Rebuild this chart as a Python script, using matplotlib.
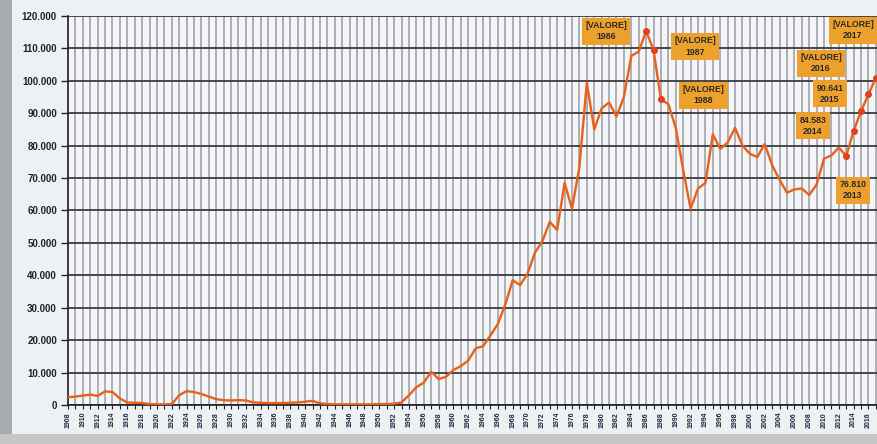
import matplotlib
matplotlib.use("Agg")
import matplotlib.pyplot as plt
from matplotlib.ticker import FuncFormatter, MultipleLocator
from matplotlib.patches import Rectangle

years = list(range(1908, 2018))
values = [
    2400, 2600, 2900, 3200, 2800, 4200, 4000, 2000, 800, 700,        # 1908-1917
    600, 300, 200, 200, 300, 3000, 4300, 4000, 3400, 2600,           # 1918-1927
    1800, 1500, 1400, 1500, 1400, 800, 700, 600, 600, 600,           # 1928-1937
    700, 800, 1000, 1300, 500, 300, 200, 200, 200, 200,              # 1938-1947
    200, 200, 300, 300, 400, 800, 3000, 5500, 6900, 10300,           # 1948-1957
    8000, 8700, 10800, 12000, 13700, 17500, 18100, 21500, 25000, 31000,  # 1958-1967
    38500, 37000, 40500, 47000, 50500, 56500, 54000, 68500, 60500, 73500,  # 1968-1977
    99500, 85000, 91500, 93300, 89000, 95000, 107700, 109000, 115400, 109500,  # 1978-1987
    94300, 92800, 85500, 72500, 60500, 66800, 68500, 83500, 79000, 81000,  # 1988-1997
    85500, 80000, 77500, 76500, 80500, 74000, 69500, 65500, 66500, 66800,  # 1998-2007
    64800, 68000, 76000, 77000, 79400, 76810, 84583, 90641, 95800, 101000,  # 2008-2017
]

label_years = [1986, 1987, 1988, 2013, 2014, 2015, 2016, 2017]
label_texts = ["[VALORE]\n1986", "[VALORE]\n1987", "[VALORE]\n1988",
               "76.810\n2013", "84.583\n2014", "90.641\n2015",
               "[VALORE]\n2016", "[VALORE]\n2017"]
# label box centres in (year, value) data coordinates
label_pos_x = [1980.6, 1992.6, 1993.7, 2013.9, 2008.5, 2010.8, 2009.6, 2013.9]
label_pos_y = [115300, 110600, 95500, 66200, 86200, 96000, 105400, 115600]

W, H = 878, 444
fig = plt.figure(figsize=(W / 100, H / 100), dpi=100, facecolor="#eef1f4")
# frame decorations
fig.add_artist(Rectangle((0, 0), 12 / W, 1, transform=fig.transFigure,
                         facecolor="#a9abad", edgecolor="none", zorder=0))
fig.add_artist(Rectangle((0, 0), 1, 10 / H, transform=fig.transFigure,
                         facecolor="#c4c6c8", edgecolor="none", zorder=0))

ax = fig.add_axes([68 / W, 1 - 405 / H, (877 - 68) / W, (405 - 16) / H])
ax.set_facecolor("#f3f5f8")

ax.plot(years, values, color="#e8611c", lw=1.7, zorder=3, solid_joinstyle="round")
mx = [y for y in label_years]
my = [values[years.index(y)] for y in label_years]
ax.plot(mx, my, "o", color="#e0401a", ms=4, zorder=4)

for t, xx, yy in zip(label_texts, label_pos_x, label_pos_y):
    ax.text(xx, yy, t, ha="center", va="center", fontsize=6.3, fontweight="bold",
            family="Liberation Sans", color="#2a2a2a", linespacing=1.3, zorder=5,
            bbox=dict(boxstyle="square,pad=0.4", facecolor="#eea02c",
                      edgecolor="none"))

ax.set_xlim(1908, 2017.15)
ax.set_ylim(0, 120000)
ax.yaxis.set_major_locator(MultipleLocator(10000))
ax.yaxis.set_major_formatter(FuncFormatter(lambda v, p: "0" if v == 0 else f"{int(v):,}".replace(",", ".")))
ax.set_xticks(years[::2])
ax.set_xticks(years, minor=True)
ax.set_xticklabels([str(y) for y in years[::2]], rotation=90, fontsize=5,
                   fontweight="bold", color="#1e2a44", family="Liberation Sans")
for lbl in ax.get_yticklabels():
    lbl.set_fontweight("bold")
    lbl.set_fontsize(7)
    lbl.set_family("Liberation Sans")
    lbl.set_color("#222222")

ax.grid(axis="y", color="#3a3a3a", lw=1.3, zorder=1)
ax.grid(axis="x", which="both", color="#a2a4a7", lw=1.2, zorder=1)
ax.set_axisbelow(True)
for s in ["top", "right"]:
    ax.spines[s].set_visible(False)
ax.spines["left"].set_color("#222222")
ax.spines["bottom"].set_color("#222222")
ax.spines["left"].set_linewidth(1.2)
ax.spines["bottom"].set_linewidth(1.2)
ax.tick_params(axis="y", length=5, width=1, color="#222222", pad=3)
ax.tick_params(axis="x", which="both", length=3, width=0.8, color="#222222", pad=2)

fig.savefig("out.png", dpi=100, facecolor=fig.get_facecolor())
